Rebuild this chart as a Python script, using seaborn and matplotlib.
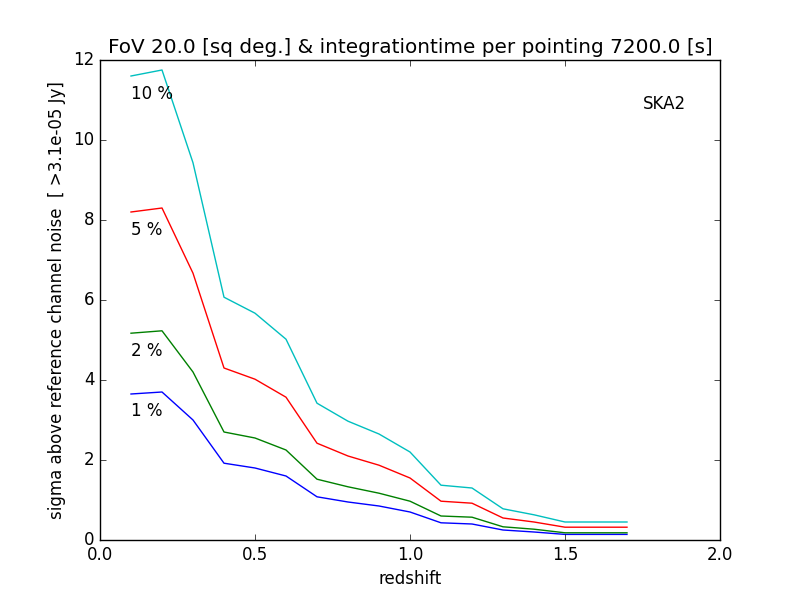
import numpy as np
import pandas as pd
import seaborn as sns
import matplotlib
matplotlib.use('Agg')
import matplotlib.pyplot as plt

redshift = [0.1, 0.2, 0.3, 0.4, 0.5, 0.6, 0.7, 0.8, 0.9, 1.0, 1.1, 1.2, 1.3, 1.4, 1.5, 1.6, 1.7]
sigma_1 = [3.65, 3.70, 3.00, 1.92, 1.80, 1.60, 1.08, 0.95, 0.85, 0.70, 0.43, 0.40, 0.25, 0.20, 0.14, 0.14, 0.14]
sigma_2 = [5.17, 5.23, 4.20, 2.70, 2.55, 2.25, 1.52, 1.33, 1.17, 0.97, 0.60, 0.57, 0.33, 0.27, 0.18, 0.18, 0.18]
sigma_5 = [8.20, 8.30, 6.67, 4.30, 4.02, 3.57, 2.42, 2.10, 1.87, 1.55, 0.97, 0.92, 0.55, 0.45, 0.32, 0.32, 0.32]
sigma_10 = [11.60, 11.75, 9.43, 6.07, 5.67, 5.02, 3.42, 2.97, 2.65, 2.20, 1.37, 1.30, 0.78, 0.63, 0.45, 0.45, 0.45]

labels = ['1 %', '2 %', '5 %', '10 %']
colors = ['b', 'g', 'r', 'c']
label_y = [3.22, 4.72, 7.75, 11.15]

plt.style.use('classic')
fig = plt.figure(figsize=(8, 6), dpi=100, facecolor='white')
ax = fig.add_subplot(111)

# long-form table for seaborn
df = pd.DataFrame({
    'redshift': redshift * 4,
    'sigma': sigma_1 + sigma_2 + sigma_5 + sigma_10,
    'frac': [l for l in labels for _ in redshift],
})
sns.lineplot(data=df, x='redshift', y='sigma', hue='frac', palette=colors,
             legend=False, ax=ax, linewidth=1)

# percentage labels next to each curve
for lab, y in zip(labels, label_y):
    ax.text(0.1, y, lab, va='center', ha='left', fontsize=12)
ax.text(1.75, 10.9, 'SKA2', va='center', ha='left', fontsize=12)

ax.set_xlim(0, 2)
ax.set_ylim(0, 12)
ax.set_xticks([0.0, 0.5, 1.0, 1.5, 2.0])
ax.set_yticks([0, 2, 4, 6, 8, 10, 12])
ax.set_xlabel('redshift')
ax.set_ylabel('sigma above reference channel noise  [ >3.1e-05 Jy]')
ax.set_title('FoV 20.0 [sq deg.] & integrationtime per pointing 7200.0 [s]')

fig.savefig('out.png', dpi=100, facecolor='white')
